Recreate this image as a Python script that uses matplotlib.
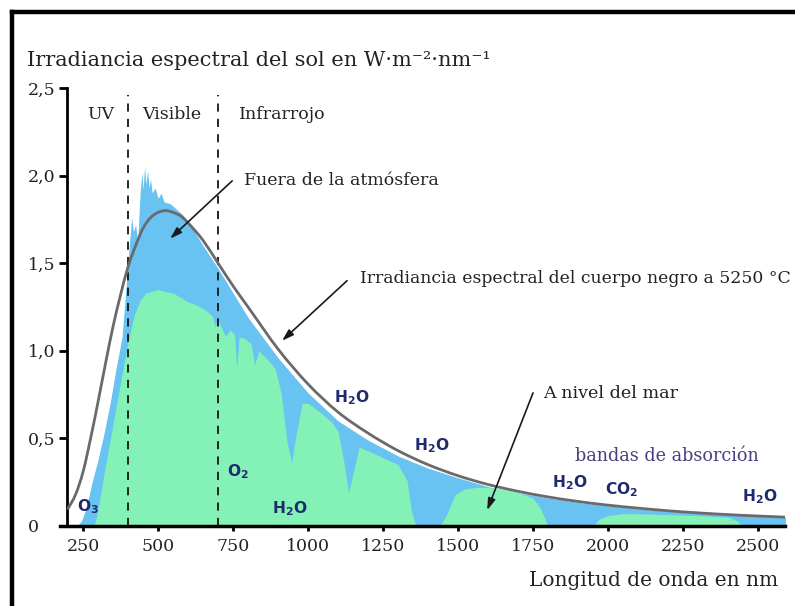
import matplotlib
matplotlib.use('Agg')
import matplotlib.pyplot as plt
from matplotlib.lines import Line2D
from matplotlib.path import Path
from matplotlib.patches import PathPatch

# ---------------- data ----------------
wl_blackbody = [200, 225, 250, 275, 300, 325, 350, 375, 400, 425, 450, 475, 500, 525,
                550, 575, 600, 650, 700, 750, 800, 900, 1000, 1100, 1200, 1300, 1400,
                1500, 1600, 1700, 1800, 1900, 2000, 2100, 2200, 2300, 2400, 2500, 2600]
blackbody = [0.10, 0.18, 0.31, 0.50, 0.71, 0.93, 1.14, 1.32, 1.48, 1.60, 1.70, 1.76, 1.79, 1.80,
             1.79, 1.77, 1.73, 1.63, 1.50, 1.37, 1.25, 1.01, 0.81, 0.65, 0.53, 0.43, 0.35,
             0.287, 0.237, 0.198, 0.166, 0.140, 0.119, 0.102, 0.087, 0.075, 0.065, 0.057, 0.050]

wl_space = [230, 245, 260, 280, 300, 320, 340, 360, 380, 395, 405, 412, 418, 425, 432,
            440, 446, 450, 455, 460, 465, 470, 475, 480, 490, 500, 510, 520, 540, 560,
            580, 600, 650, 700, 750, 800, 900, 1000, 1100, 1200, 1300, 1400, 1500, 1600,
            1700, 1800, 1900, 2000, 2100, 2200, 2300, 2400, 2500, 2600]
space = [0.0, 0.03, 0.10, 0.25, 0.38, 0.53, 0.70, 0.90, 1.08, 1.40, 1.62, 1.76, 1.68, 1.72, 1.62,
         1.90, 2.02, 1.92, 2.05, 1.95, 2.03, 1.93, 1.98, 1.90, 1.93, 1.87, 1.90, 1.85, 1.84, 1.81,
         1.78, 1.74, 1.60, 1.47, 1.33, 1.19, 0.96, 0.76, 0.60, 0.49, 0.40, 0.33, 0.275, 0.225,
         0.19, 0.16, 0.135, 0.115, 0.098, 0.084, 0.072, 0.063, 0.055, 0.048]

wl_sea = [280, 290, 300, 310, 320, 340, 360, 380, 400, 420, 440, 460, 480, 500, 520,
          550, 580, 600, 630, 660, 680, 690, 700, 715, 725, 740, 755, 762, 770, 790,
          810, 822, 835, 860, 890, 910, 930, 945, 960, 980, 1000, 1040, 1080, 1100, 1120,
          1135, 1150, 1170, 1200, 1250, 1300, 1330, 1345, 1360, 1440, 1460, 1490, 1520, 1560,
          1600, 1650, 1700, 1750, 1775, 1790, 1800, 1950, 1970, 2000, 2050, 2100, 2200, 2300,
          2400, 2430, 2450, 2600]
sea = [0.0, 0.02, 0.10, 0.20, 0.30, 0.49, 0.68, 0.87, 1.05, 1.20, 1.29, 1.33, 1.34, 1.35, 1.34,
       1.33, 1.30, 1.28, 1.26, 1.23, 1.20, 1.14, 1.17, 1.12, 1.08, 1.12, 1.09, 0.90, 1.08, 1.07,
       1.04, 0.92, 1.00, 0.96, 0.90, 0.76, 0.48, 0.36, 0.52, 0.70, 0.70, 0.65, 0.59, 0.54, 0.36,
       0.19, 0.30, 0.45, 0.43, 0.39, 0.35, 0.26, 0.08, 0.0, 0.0, 0.06, 0.18, 0.21, 0.22,
       0.22, 0.21, 0.19, 0.16, 0.10, 0.04, 0.0, 0.0, 0.04, 0.06, 0.07, 0.07, 0.065, 0.06,
       0.05, 0.03, 0.0, 0.0]

xticks = [250, 500, 750, 1000, 1250, 1500, 1750, 2000, 2250, 2500]
xtick_labels = ['250', '500', '750', '1000', '1250', '1500', '1750', '2000', '2250', '2500']
yticks = [0, 0.5, 1.0, 1.5, 2.0, 2.5]
ytick_labels = ['0', '0,5', '1,0', '1,5', '2,0', '2,5']
region_bounds = [400, 700]
region_names = ['UV', 'Visible', 'Infrarrojo']
molecules = [r'$\mathbf{O_3}$', r'$\mathbf{O_2}$', r'$\mathbf{H_2O}$', r'$\mathbf{H_2O}$',
             r'$\mathbf{H_2O}$', r'$\mathbf{H_2O}$', r'$\mathbf{CO_2}$', r'$\mathbf{H_2O}$']

# ---------------- style ----------------
BLUE = '#68c2f2'
GREEN = '#84f1b6'
CURVE = '#6a6a6a'
NAVY = '#1f2a6e'
TXT = '#222222'
SERIF = 'DejaVu Serif'
plt.rcParams['mathtext.fontset'] = 'dejavusans'

fig = plt.figure(figsize=(7.95, 6.06), dpi=100)
fig.patch.set_facecolor('white')
ax = fig.add_axes([60 / 795, 80 / 606, 725 / 795, 438 / 606])

ax.fill_between(wl_space, space, 0, color=BLUE, lw=0, zorder=1)
ax.fill_between(wl_sea, sea, 0, color=GREEN, lw=0, zorder=2)


def smooth_path(xs, ys):
    """Catmull-Rom spline through the given points, drawn as cubic Bezier segments."""
    verts = [(xs[0], ys[0])]
    codes = [Path.MOVETO]
    n = len(xs)
    for i in range(n - 1):
        x0, y0 = (xs[i - 1], ys[i - 1]) if i > 0 else (xs[i], ys[i])
        x1, y1 = xs[i], ys[i]
        x2, y2 = xs[i + 1], ys[i + 1]
        x3, y3 = (xs[i + 2], ys[i + 2]) if i + 2 < n else (xs[i + 1], ys[i + 1])
        # non-uniform spacing: scale tangents by segment length
        h = x2 - x1
        t1 = ((y2 - y0) / (x2 - x0)) if x2 != x0 else 0
        t2 = ((y3 - y1) / (x3 - x1)) if x3 != x1 else 0
        c1 = (x1 + h / 3, y1 + t1 * h / 3)
        c2 = (x2 - h / 3, y2 - t2 * h / 3)
        verts += [c1, c2, (x2, y2)]
        codes += [Path.CURVE4] * 3
    return Path(verts, codes)


ax.add_patch(PathPatch(smooth_path(wl_blackbody, blackbody), facecolor='none', edgecolor=CURVE,
                       lw=2, zorder=4, transform=ax.transData, capstyle='round'))
for b in region_bounds:
    ax.plot([b, b], [0, 2.46], color='#151515', lw=1.3, ls=(0, (4.5, 4)), zorder=3)

ax.set_xlim(173, 2590)
ax.set_ylim(0, 2.5)
for s in ['top', 'right']:
    ax.spines[s].set_visible(False)
ax.spines['left'].set_position(('data', 197))
ax.spines['left'].set_linewidth(2)
ax.spines['bottom'].set_linewidth(2.5)

ax.set_xticks(xticks)
ax.set_xticklabels(xtick_labels, fontfamily=SERIF, fontsize=12.5, color=TXT)
ax.set_yticks(yticks)
ax.set_yticklabels(ytick_labels, fontfamily=SERIF, fontsize=12.5, color=TXT)
ax.tick_params(axis='x', direction='out', length=3.5, width=2, pad=5)
ax.tick_params(axis='y', direction='out', length=6, width=2, pad=22)
for lab in ax.get_yticklabels():
    lab.set_horizontalalignment('left')

# region labels
ax.text(310, 2.35, region_names[0], ha='center', va='center', fontfamily=SERIF, fontsize=12.5, color=TXT)
ax.text(547, 2.35, region_names[1], ha='center', va='center', fontfamily=SERIF, fontsize=12.5, color=TXT)
ax.text(770, 2.35, region_names[2], ha='left', va='center', fontfamily=SERIF, fontsize=12.5, color=TXT)

# annotations
arrow = dict(arrowstyle='-|>,head_length=0.7,head_width=0.22', color='#1a1a1a', lw=1.2,
             shrinkA=0, shrinkB=0)
ax.annotate('', xy=(540, 1.64), xytext=(747, 1.97), arrowprops=arrow, zorder=5)
ax.text(787, 1.97, 'Fuera de la atmósfera', ha='left', va='center', fontfamily=SERIF,
        fontsize=12.5, color=TXT)
ax.annotate('', xy=(913, 1.057), xytext=(1130, 1.40), arrowprops=arrow, zorder=5)
ax.text(1173, 1.415, 'Irradiancia espectral del cuerpo negro a 5250 °C', ha='left', va='center',
        fontfamily=SERIF, fontsize=12.4, color=TXT, clip_on=False)
ax.annotate('', xy=(1597, 0.09), xytext=(1750, 0.76), arrowprops=arrow, zorder=5)
ax.text(1783, 0.756, 'A nivel del mar', ha='left', va='center', fontfamily=SERIF,
        fontsize=12.6, color=TXT)
ax.text(1890, 0.40, 'bandas de absorción', ha='left', va='center', fontfamily=SERIF,
        fontsize=12.7, color='#4a3f80')

mol_pos = [(267, 0.11), (767, 0.31), (940, 0.10), (1147, 0.73), (1413, 0.46),
           (1873, 0.25), (2047, 0.205), (2507, 0.165)]
for m, (mx, my) in zip(molecules, mol_pos):
    ax.text(mx, my, m, ha='center', va='center', fontsize=11.2, color=NAVY, zorder=6)

# titles
fig.text(27 / 795, 1 - 60 / 606, 'Irradiancia espectral del sol en W·m⁻²·nm⁻¹', ha='left', va='center',
         fontfamily=SERIF, fontsize=15, color=TXT)
fig.text(778 / 795, 1 - 580 / 606, 'Longitud de onda en nm', ha='right', va='center',
         fontfamily=SERIF, fontsize=14.5, color=TXT)

# frame lines
fig.add_artist(Line2D([12 / 795, 1], [1 - 12 / 606, 1 - 12 / 606], transform=fig.transFigure,
                      color='black', lw=3.2))
fig.add_artist(Line2D([12 / 795, 12 / 795], [0, 1 - 12 / 606], transform=fig.transFigure,
                      color='black', lw=3.2))

fig.savefig('out.png', dpi=100)
